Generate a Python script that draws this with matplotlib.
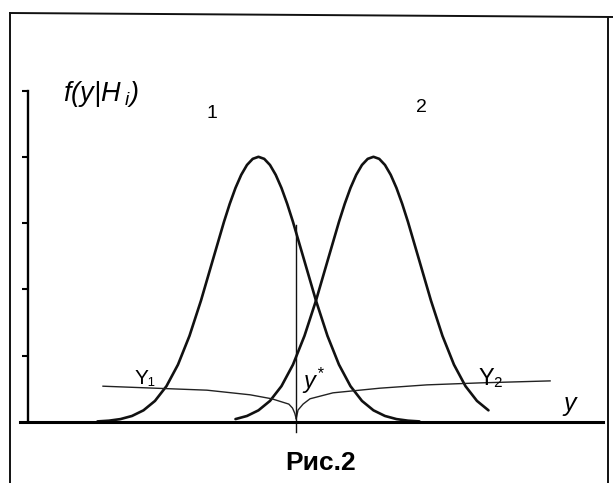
import numpy as np
import matplotlib
matplotlib.use('Agg')
import matplotlib.pyplot as plt
from matplotlib.lines import Line2D

plt.rcParams['font.family'] = ['Liberation Sans', 'DejaVu Sans']
plt.rcParams['mathtext.fontset'] = 'custom'
plt.rcParams['mathtext.it'] = 'Liberation Sans:italic'
plt.rcParams['mathtext.rm'] = 'Liberation Sans:italic'

# densities f(y|H1), f(y|H2)
y1_x = [1.5, 1.75, 2.0, 2.25, 2.5, 2.75, 3.0, 3.25, 3.5, 3.75, 4.0, 4.25, 4.375, 4.5, 4.625, 4.75, 4.875,
        5.0, 5.125, 5.25, 5.375, 5.5, 5.625, 5.75, 6.0, 6.25, 6.5, 6.75, 7.0, 7.25, 7.5, 7.75, 8.0, 8.25, 8.5]
f1 = [0.009, 0.020, 0.044, 0.091, 0.176, 0.318, 0.541, 0.865, 1.299, 1.831, 2.426, 3.019, 3.290, 3.530, 3.728, 3.877, 3.969,
      4.000, 3.969, 3.877, 3.728, 3.530, 3.290, 3.019, 2.426, 1.831, 1.299, 0.865, 0.541, 0.318, 0.176, 0.091, 0.044, 0.020, 0.009]

y2_x = [4.5, 4.75, 5.0, 5.25, 5.5, 5.75, 6.0, 6.25, 6.5, 6.75, 6.875, 7.0, 7.125, 7.25, 7.375,
        7.5, 7.625, 7.75, 7.875, 8.0, 8.125, 8.25, 8.5, 8.75, 9.0, 9.25, 9.5, 9.75, 10.0]
f2 = [0.044, 0.091, 0.176, 0.318, 0.541, 0.865, 1.299, 1.831, 2.426, 3.019, 3.290, 3.530, 3.728, 3.877, 3.969,
      4.000, 3.969, 3.877, 3.728, 3.530, 3.290, 3.019, 2.426, 1.831, 1.299, 0.865, 0.541, 0.318, 0.176]

# decision regions Y1 / Y2 meeting at threshold y*
reg1_x = [1.62, 3.88, 4.82, 5.29, 5.66, 5.74, 5.79, 5.82]
reg1_y = [0.54, 0.48, 0.41, 0.35, 0.27, 0.21, 0.13, 0.05]
reg2_x = [5.82, 5.86, 5.97, 6.12, 6.62, 7.64, 8.66, 9.82, 11.34]
reg2_y = [0.05, 0.18, 0.27, 0.35, 0.44, 0.51, 0.56, 0.59, 0.62]

y_star = 5.82
y_star_top = 2.97
y_ticks = [1, 2, 3, 4, 5]

W, H = 613, 483
fig = plt.figure(figsize=(W / 100, H / 100), dpi=100)
ax = fig.add_axes([20.2 / W, 61 / H, (603 - 20.2) / W, 331.5 / H])
ax.set_xlim(-0.18, 12.49)
ax.set_ylim(0, 5)

ax.plot(y1_x, f1, color='#111111', lw=1.9, clip_on=False, solid_capstyle='round')
ax.plot(y2_x, f2, color='#111111', lw=1.9, clip_on=False, solid_capstyle='round')
ax.plot(reg1_x, reg1_y, color='#222222', lw=1.0, clip_on=False)
ax.plot(reg2_x, reg2_y, color='#222222', lw=1.0, clip_on=False)
ax.plot([y_star, y_star], [-0.15, y_star_top], color='#111111', lw=1.0, clip_on=False)

for s in ['top', 'right']:
    ax.spines[s].set_visible(False)
ax.spines['left'].set_position(('data', 0))
ax.spines['left'].set_linewidth(1.7)
ax.spines['bottom'].set_linewidth(2.2)
ax.set_yticks(y_ticks)
ax.set_xticks([])
ax.tick_params(axis='y', direction='out', length=4, width=1.5, labelleft=False)


def txt(x, y, s, **kw):
    fig.text(x / W, 1 - y / H, s, **kw)


txt(63, 94, r'$f(y|H_{\;i})$', fontsize=19.5, ha='left', va='center')
txt(212, 113, '1', fontsize=14, ha='center', va='center')
txt(421, 108, '2', fontsize=14, ha='center', va='center')
txt(145, 378, 'Y₁', fontsize=15, ha='center', va='center')
txt(491, 379, 'Y₂', fontsize=17, ha='center', va='center')
txt(302, 381, r'$y^{*}$', fontsize=17, ha='left', va='center')
txt(570, 404, 'y', fontsize=18, style='italic', ha='center', va='center')
txt(321, 463, 'Рис.2', fontsize=19, weight='bold', ha='center', va='center')

# page frame around the figure
frame = [([10, 10], [13, 483]), ([10, 613], [13, 17]), ([608, 608], [17, 483])]
for xs, ys in frame:
    fig.add_artist(Line2D([x / W for x in xs], [1 - y / H for y in ys],
                          color='#111111', lw=1.4, transform=fig.transFigure))

fig.savefig('out.png', dpi=100)
